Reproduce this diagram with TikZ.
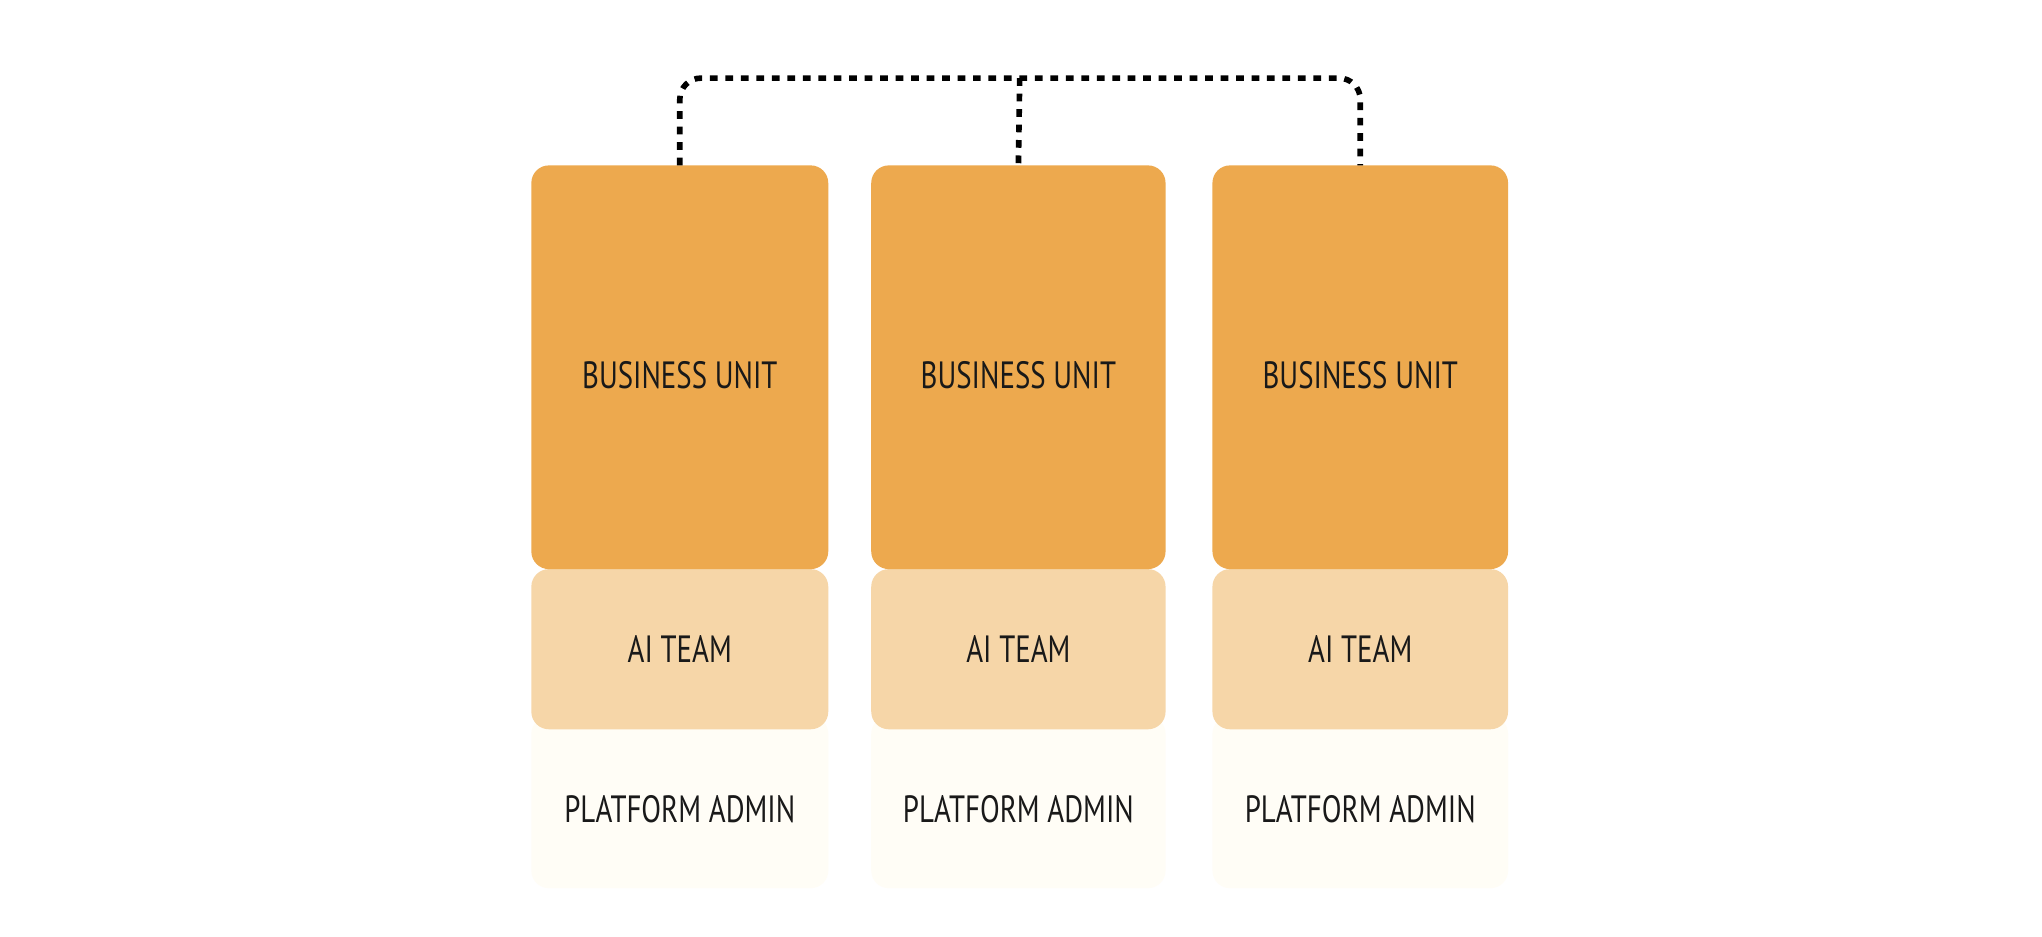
\documentclass[tikz,border=0pt]{standalone}
\usepackage{fontspec}
\setmainfont{PT Sans}[FakeStretch=0.76]
\begin{document}
\begin{tikzpicture}[x=0.01302cm,y=-0.01302cm,
  bu/.style={fill=buc,rounded corners=5pt,draw=none},
  ai/.style={fill=aic,rounded corners=5pt,draw=none},
  pa/.style={fill=pac,rounded corners=5pt,draw=none},
  lbl/.style={font=\fontsize{10.8}{13}\selectfont,text=black!90},
  link/.style={line width=1.6pt,dash pattern=on 2.2pt off 2.2pt,rounded corners=6pt}]
\definecolor{buc}{HTML}{EDA94E}
\definecolor{aic}{HTML}{F6D6A8}
\definecolor{pac}{HTML}{FFFDF6}
\useasboundingbox[fill=white] (0,0) rectangle (1568,719);
\foreach \i/\l/\r in {1/408/636,2/669/895,3/931/1158}{
  \fill[pa] (\l,550) rectangle (\r,682);
  \fill[ai] (\l,437) rectangle (\r,560);
  \fill[bu] (\l,127) rectangle (\r,437);
  \node[lbl] (bu\i) at ({(\l+\r)/2},288) {BUSINESS UNIT};
  \node[lbl] (ai\i) at ({(\l+\r)/2},498) {AI TEAM};
  \node[lbl] (pa\i) at ({(\l+\r)/2},621) {PLATFORM ADMIN};
  \coordinate (t\i) at ({(\l+\r)/2},127);
}
\coordinate (top) at (783,60);
\draw[link] (t1) |- (top) -| (t3);
\draw[link] (top) -- (t2);
\end{tikzpicture}
\end{document}
